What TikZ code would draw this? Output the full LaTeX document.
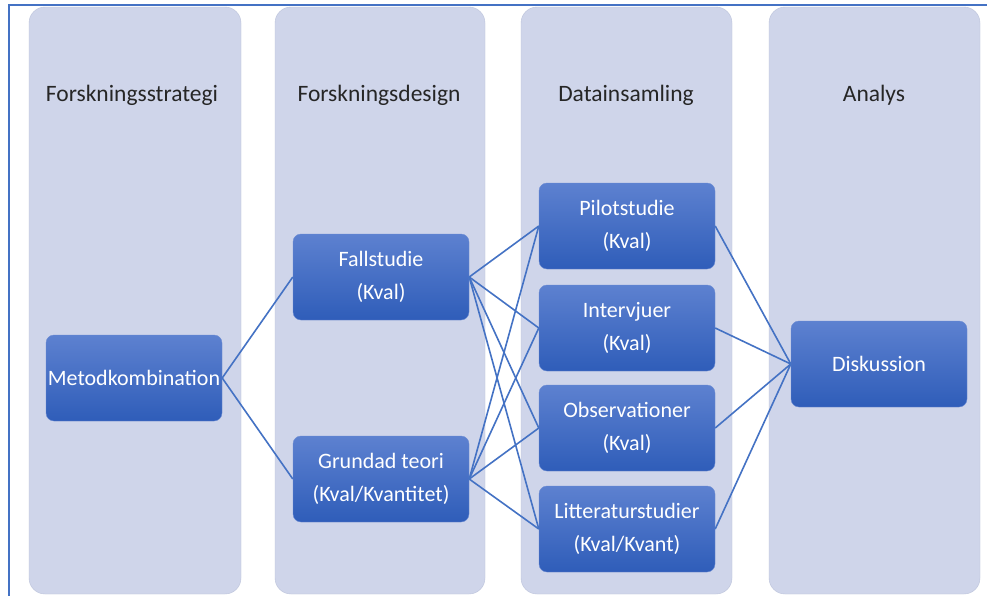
\documentclass[tikz,border=0pt]{standalone}
\usepackage{fontspec}
\setmainfont{Carlito}
\definecolor{laneclr}{HTML}{CFD5EA}
\definecolor{laneedge}{HTML}{BCC3DA}
\definecolor{linkclr}{HTML}{4472C4}
\definecolor{boxtop}{HTML}{5D81D0}
\definecolor{boxbot}{HTML}{2F5DB9}
\definecolor{boxedge}{HTML}{6C8CD3}
\begin{document}
\begin{tikzpicture}[x=1pt,y=-1pt,
  lane/.style={fill=laneclr,draw=laneedge,line width=0.4pt,rounded corners=16pt},
  header/.style={font=\fontsize{23.5}{28}\selectfont,text=black!85},
  stepbox/.style={rounded corners=8pt,top color=boxtop,bottom color=boxbot,
    draw=boxedge,line width=0.4pt,minimum width=176pt,minimum height=86pt,
    text=white,align=center,font=\fontsize{22}{33}\selectfont,inner sep=0pt},
  link/.style={draw=linkclr,line width=1.6pt}]
\useasboundingbox (0,0) rectangle (987,595);
\fill[white] (0,0) rectangle (987,595);

% swim lanes
\foreach \xa/\xb in {29/241,275/485,521/732,769/980}
  \draw[lane] (\xa,7) rectangle (\xb,594);

% frame
\draw[linkclr,line width=2pt] (9,596) -- (9,5) -- (988,5);

% lane headings
\node[header] (h1) at (132,95) {Forskningsstrategi};
\node[header] (h2) at (379,95) {Forskningsdesign};
\node[header] (h3) at (626,95) {Datainsamling};
\node[header] (h4) at (874,95) {Analys};

% process boxes
\node[stepbox] (metod) at (134,378) {Metodkombination};
\node[stepbox] (fall) at (381,277) {Fallstudie\\(Kval)};
\node[stepbox] (grund) at (381,479) {Grundad teori\\(Kval/Kvantitet)};
\node[stepbox] (pilot) at (627,226) {Pilotstudie\\(Kval)};
\node[stepbox] (intv) at (627,328) {Intervjuer\\(Kval)};
\node[stepbox] (obs) at (627,428) {Observationer\\(Kval)};
\node[stepbox] (litt) at (627,529) {Litteraturstudier\\(Kval/Kvant)};
\node[stepbox] (disk) at (879,364) {Diskussion};

% connectors
\draw[link] (metod.east) -- (fall.west);
\draw[link] (metod.east) -- (grund.west);
\foreach \d in {pilot,intv,obs,litt}{
  \draw[link] (fall.east) -- (\d.west);
  \draw[link] (grund.east) -- (\d.west);
  \draw[link] (\d.east) -- (disk.west);
}
\end{tikzpicture}
\end{document}
